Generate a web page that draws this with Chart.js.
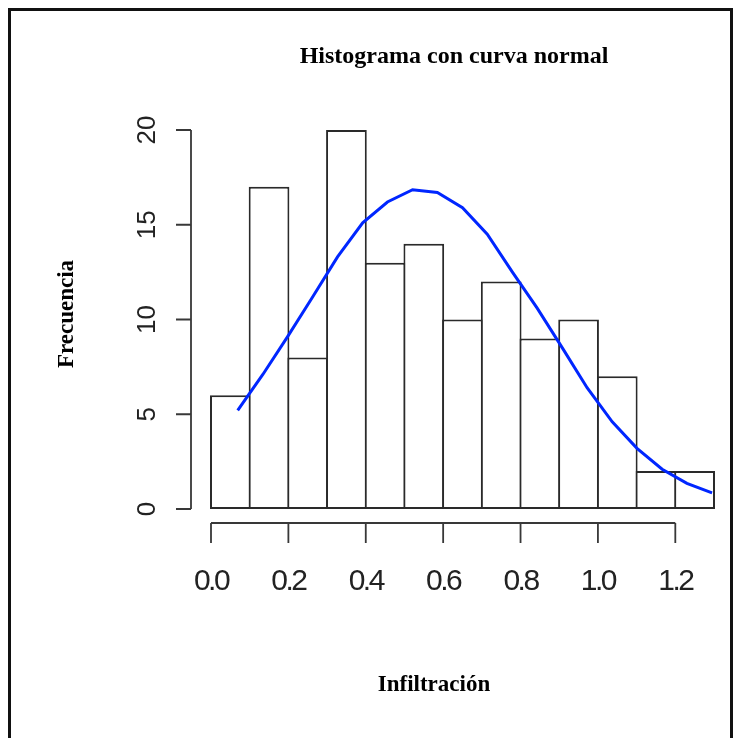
<!DOCTYPE html>
<html>
<head>
<meta charset="utf-8">
<title>Histograma con curva normal</title>
<script src="https://cdn.jsdelivr.net/npm/chart.js@4.4.1/dist/chart.umd.min.js"></script>
<style>
    html, body { margin: 0; padding: 0; background: #fff; }
    #wrap { position: relative; width: 735px; height: 738px; overflow: hidden; }
    #frame { position: absolute; left: 8px; top: 8px; width: 719px; height: 760px;
             border: 3px solid #111; pointer-events: none; }
</style>
</head>
<body>
<div id="wrap">
    <canvas id="histChart" width="735" height="738"></canvas>
    <div id="frame"></div>
</div>
<script>
// histogram bins (width 0.1) and counts
const binCenters  = [0.05, 0.15, 0.25, 0.35, 0.45, 0.55, 0.65, 0.75, 0.85, 0.95, 1.05, 1.15, 1.25];
const frecuencias = [6, 17, 8, 20, 13, 14, 10, 12, 9, 10, 7, 2, 2];

// normal curve
const curveX = [0.069, 0.134, 0.198, 0.263, 0.327, 0.392, 0.456, 0.521, 0.585, 0.650,
                0.714, 0.779, 0.843, 0.908, 0.972, 1.037, 1.101, 1.166, 1.230, 1.295];
const curveY = [5.2, 7.1, 9.1, 11.2, 13.3, 15.1, 16.2, 16.85, 16.7, 15.9,
                14.5, 12.5, 10.6, 8.5, 6.4, 4.6, 3.2, 2.1, 1.35, 0.85];

const xTicks = [0, 0.2, 0.4, 0.6, 0.8, 1.0, 1.2];
const yTicks = [0, 5, 10, 15, 20];

const titulo = 'Histograma con curva normal';
const xTitulo = 'Infiltración';
const yTitulo = 'Frecuencia';

// R style axes: detached from the plot region
const rAxes = {
    id: 'rAxes',
    beforeDraw(chart) {
        chart.ctx.letterSpacing = '0px';
    },
    afterDatasetsDraw(chart) {
        // x tick labels are drawn after this (ticks.z = 1); R's font there is narrow
        chart.ctx.letterSpacing = '-2.5px';
    },
    afterDraw(chart) {
        const { ctx, chartArea, scales: { x, y } } = chart;
        ctx.letterSpacing = '0px';
        ctx.save();
        ctx.strokeStyle = '#383838';
        ctx.lineWidth = 1.8;
        ctx.beginPath();
        const ax = chartArea.left - 20;
        ctx.moveTo(ax, y.getPixelForValue(yTicks[0]));
        ctx.lineTo(ax, y.getPixelForValue(yTicks[yTicks.length - 1]));
        yTicks.forEach(v => {
            const py = y.getPixelForValue(v);
            ctx.moveTo(ax, py);
            ctx.lineTo(ax - 15, py);
        });
        const ay = chartArea.bottom + 14;
        ctx.moveTo(x.getPixelForValue(xTicks[0]), ay);
        ctx.lineTo(x.getPixelForValue(xTicks[xTicks.length - 1]), ay);
        xTicks.forEach(v => {
            const px = x.getPixelForValue(v);
            ctx.moveTo(px, ay);
            ctx.lineTo(px, ay + 20);
        });
        ctx.stroke();
        ctx.restore();
    }
};

const labels = {
    id: 'labels',
    afterDraw(chart) {
        const ctx = chart.ctx;
        ctx.save();
        ctx.letterSpacing = '0px';
        ctx.fillStyle = '#000';
        ctx.textAlign = 'center';
        ctx.textBaseline = 'alphabetic';
        ctx.font = 'bold 24px "Liberation Serif", "DejaVu Serif", serif';
        ctx.fillText(titulo, 454, 63);
        ctx.font = 'bold 23px "Liberation Serif", "DejaVu Serif", serif';
        ctx.fillText(xTitulo, 434, 691);
        ctx.translate(73, 314);
        ctx.rotate(-Math.PI / 2);
        ctx.fillText(yTitulo, 0, 0);
        ctx.restore();
    }
};

new Chart(document.getElementById('histChart'), {
    type: 'bar',
    data: {
        datasets: [{
            type: 'line',
            data: curveX.map((v, i) => ({ x: v, y: curveY[i] })),
            borderColor: '#0026ff',
            borderWidth: 3,
            pointRadius: 0,
            tension: 0,
            fill: false
        }, {
            data: binCenters.map((v, i) => ({ x: v, y: frecuencias[i] })),
            backgroundColor: '#fff',
            borderColor: '#2a2a2a',
            borderWidth: 2,
            borderSkipped: false,
            barPercentage: 1.052,
            categoryPercentage: 1,
            clip: 5
        }]
    },
    options: {
        responsive: false,
        animation: false,
        layout: { padding: { top: 130, right: 21, left: 0, bottom: 0 } },
        plugins: { legend: { display: false }, tooltip: { enabled: false } },
        scales: {
            x: {
                type: 'linear', min: 0, max: 1.3, offset: false,
                grid: { display: false, drawTicks: false },
                border: { display: false },
                afterBuildTicks: s => { s.ticks = xTicks.map(v => ({ value: v })); },
                afterFit: s => { s.height = 229; s.paddingLeft = 0; s.paddingRight = 0; },
                ticks: {
                    z: 1, autoSkip: false, maxRotation: 0, padding: 55, color: '#222',
                    font: { family: '"Liberation Sans", Arial, sans-serif', size: 30 },
                    callback: v => v.toFixed(1)
                }
            },
            y: {
                min: 0, max: 20,
                grid: { display: false, drawTicks: false },
                border: { display: false },
                afterBuildTicks: s => { s.ticks = yTicks.map(v => ({ value: v })); },
                afterFit: s => { s.width = 211; s.paddingTop = 0; s.paddingBottom = 0; },
                ticks: {
                    autoSkip: false, minRotation: 90, maxRotation: 90, crossAlign: 'center',
                    padding: 49, color: '#222',
                    font: { family: '"Liberation Sans", Arial, sans-serif', size: 26 },
                    callback: v => String(v)
                }
            }
        }
    },
    plugins: [rAxes, labels]
});
</script>
</body>
</html>
